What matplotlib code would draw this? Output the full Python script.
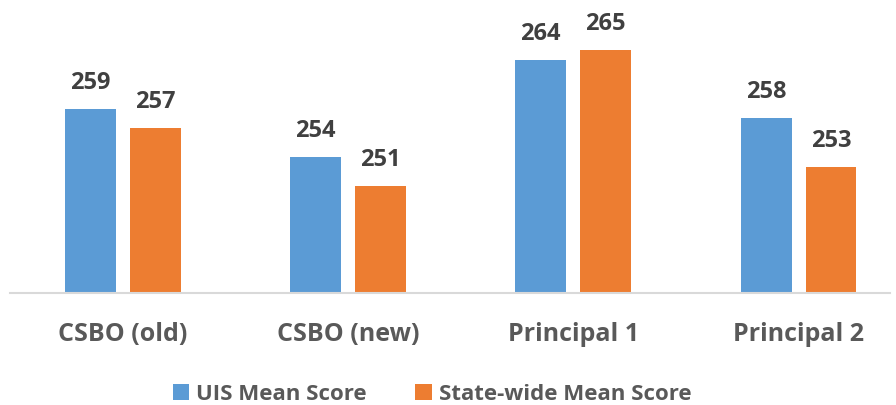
import numpy as np
import matplotlib.pyplot as plt

# data
categories = ["CSBO (old)", "CSBO (new)", "Principal 1", "Principal 2"]
uis_scores = [259, 254, 264, 258]
state_scores = [257, 251, 265, 253]
series_names = ["UIS Mean Score", "State-wide Mean Score"]

blue = "#5B9BD5"
orange = "#ED7D31"

plt.rcParams['font.family'] = ['Open Sans', 'DejaVu Sans']
plt.rcParams['font.weight'] = 'bold'

fig = plt.figure(figsize=(8.96, 4.05), dpi=100)
ax = fig.add_axes([10 / 896, 112 / 405, 880 / 896, 293 / 405])

x = np.arange(len(categories))
w = 0.226
off = 0.144
b1 = ax.bar(x - off, uis_scores, w, color=blue, label=series_names[0])
b2 = ax.bar(x + off, state_scores, w, color=orange, label=series_names[1])

ax.set_xlim(-0.5, 3.406)
ax.set_ylim(240, 270.2)

# value labels above bars
for bars, vals in [(b1, uis_scores), (b2, state_scores)]:
    for r, v in zip(bars, vals):
        ax.annotate(str(v), (r.get_x() + r.get_width() / 2, v),
                    xytext=(0, 14.4), textcoords="offset points",
                    ha="center", va="baseline", fontsize=17,
                    fontweight="bold", color="#404040")

for s in ["top", "right", "left"]:
    ax.spines[s].set_visible(False)
ax.spines["bottom"].set_color("#D9D9D9")
ax.spines["bottom"].set_linewidth(1.5)
ax.set_yticks([])
ax.set_xticks(x)
ax.set_xticklabels(categories, fontsize=18, fontweight="bold", color="#595959")
ax.tick_params(axis="x", length=0, pad=21)

fig.legend(loc="center", bbox_to_anchor=(432 / 896, 1 - 394 / 405),
           ncol=2, frameon=False, handlelength=0.75, handleheight=0.75,
           handletextpad=0.3, columnspacing=2.2,
           prop={"size": 16, "weight": "bold"}, labelcolor="#595959")

fig.savefig("out.png", dpi=100)
